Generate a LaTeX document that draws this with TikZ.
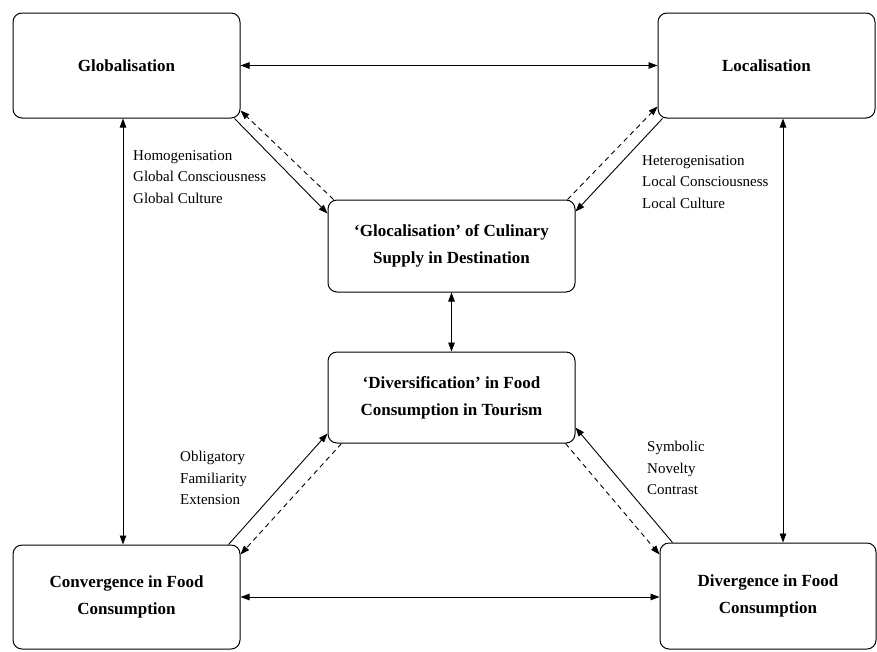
\documentclass[tikz,border=0pt]{standalone}
\usepackage{fontspec}
\setmainfont{Liberation Serif}
\usepackage{tikz}
\usetikzlibrary{arrows.meta}
\usetikzlibrary{calc}

\tikzset{
    box/.style = {draw, line width = 1pt, rounded corners = 9pt, align = center,
                  font = \fontsize{17}{27}\selectfont\bfseries},
    note/.style = {anchor = west, align = left, inner sep = 0pt,
                   font = \fontsize{15}{21.5}\selectfont},
    link/.style = {line width = 0.9pt, -{Triangle[length = 9pt, width = 6.5pt]}},
    twoway/.style = {line width = 0.9pt, {Triangle[length = 9pt, width = 6.5pt]}-{Triangle[length = 9pt, width = 6.5pt]}},
    back/.style = {link, dash pattern = on 5pt off 4pt}
}

\begin{document}
\begin{tikzpicture}[x = 1pt, y = -1pt]
        \useasboundingbox (0,0) rectangle (877,651);

        % the six boxes
        \node[box, minimum width = 227pt, minimum height = 105pt] (glob) at (126.5,65.5) {Globalisation};
        \node[box, minimum width = 217pt, minimum height = 105pt] (loc) at (766.5,65.5) {Localisation};
        \node[box, minimum width = 247pt, minimum height = 92pt] (gloc) at (451.5,246) {`Glocalisation' of Culinary\\Supply in Destination};
        \node[box, minimum width = 247pt, minimum height = 91pt] (divs) at (451.5,397.5) {`Diversification' in Food\\Consumption in Tourism};
        \node[box, minimum width = 227pt, minimum height = 104pt] (conv) at (126.5,597) {Convergence in Food\\Consumption};
        \node[box, minimum width = 216pt, minimum height = 106pt] (divg) at (768,596) {Divergence in Food\\Consumption};

        % two-way links
        \coordinate (ltop) at ($(glob.south)+(-3.5,0)$);
        \coordinate (rtop) at ($(loc.south)+(16.5,0)$);
        \draw[twoway] (glob) -- (loc);
        \draw[twoway] (conv.east) -- (conv.east -| divg.west);
        \draw[twoway] (ltop) -- (ltop |- conv.north);
        \draw[twoway] (rtop) -- (rtop |- divg.north);
        \draw[twoway] (gloc.south) -- (divs.north);

        % upper diagonals
        \draw[link] ($(glob.south east)+(-6,0)$) -- ($(gloc.north west)+(0,14)$);
        \draw[back] ($(gloc.north west)+(6,0)$) -- ($(glob.south east)+(0,-8)$);
        \draw[link] ($(loc.south west)+(5,0)$) -- ($(gloc.north east)+(0,12)$);
        \draw[back] ($(gloc.north east)+(-8,0)$) -- ($(loc.south west)+(0,-12)$);

        % lower diagonals
        \draw[link] ($(conv.north east)+(-12,0)$) -- ($(divs.south west)+(0,-10)$);
        \draw[back] ($(divs.south west)+(14,0)$) -- ($(conv.north east)+(0,10)$);
        \draw[link] ($(divg.north west)+(13,0)$) -- ($(divs.south east)+(0,-16)$);
        \draw[back] ($(divs.south east)+(-10,0)$) -- ($(divg.north west)+(0,12)$);

        % labels
        \node[note] (homog) at (133,177) {Homogenisation\\Global Consciousness\\Global Culture};
        \node[note] (heterog) at (642,182) {Heterogenisation\\Local Consciousness\\Local Culture};
        \node[note] (oblig) at (180,478) {Obligatory\\Familiarity\\Extension};
        \node[note] (symb) at (647,468) {Symbolic\\Novelty\\Contrast};
    \end{tikzpicture}
\end{document}
